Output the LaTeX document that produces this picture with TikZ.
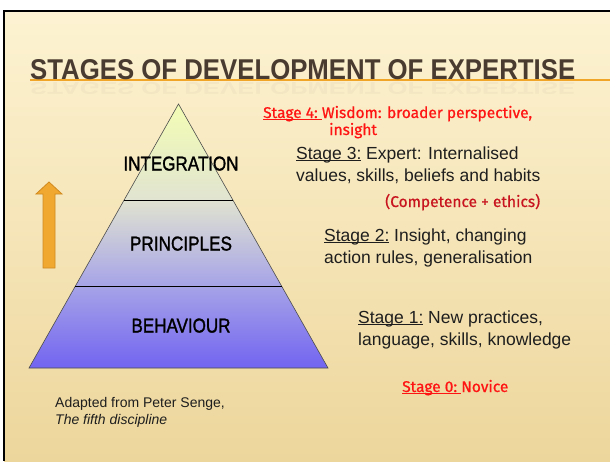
\documentclass[tikz,border=0pt]{standalone}
\usepackage{fontspec}
\setmainfont{Liberation Sans}
\newfontfamily\redfont[FakeBold=0.7]{Fira Sans}
\newfontfamily\pyrfont[FakeBold=1.6]{Liberation Sans}
\usetikzlibrary{calc}
\newcommand\myul[1]{\setbox0\hbox{#1}\rlap{\rule[-2.2pt]{\wd0}{0.9pt}}\box0\relax}
\definecolor{bgtop}{HTML}{FDF3D2}
\definecolor{bgbot}{HTML}{EDD69C}
\definecolor{titlecol}{HTML}{4A3B30}
\definecolor{ulorange}{HTML}{F0A428}
\definecolor{pt}{HTML}{F3FDB4}
\definecolor{pg}{HTML}{E1E4D0}
\definecolor{pl}{HTML}{A8A5E7}
\definecolor{pb}{HTML}{7264F1}
\definecolor{arrfill}{HTML}{F0A830}
\definecolor{arrdraw}{HTML}{D08A20}
\definecolor{redA}{HTML}{FF1414}
\definecolor{redB}{HTML}{C8141E}
\definecolor{txt}{HTML}{1E1E1E}
\pgfdeclareverticalshading{pyrshade}{100bp}{color(0bp)=(pb); color(25bp)=(pb); color(41bp)=(pl); color(57bp)=(pg); color(75bp)=(pt); color(100bp)=(pt)}
\tikzset{
  pyrlabel/.style={anchor=base, inner sep=0pt, text=black, font=\pyrfont},
  bodytext/.style={anchor=base west, inner sep=0pt, text=txt, font=\fontsize{17.5}{21}\selectfont},
  redtext/.style={anchor=base west, inner sep=0pt, text=redA, font=\redfont\fontsize{15.5}{18}\selectfont},
  smalltext/.style={anchor=base west, inner sep=0pt, text=txt, font=\fontsize{14}{17}\selectfont},
  pyredge/.style={draw=black!70, line width=0.6pt},
  divider/.style={draw=black, line width=0.9pt},
}
\begin{document}
\begin{tikzpicture}[x=1pt,y=-1pt]
\useasboundingbox (0,0) rectangle (610,461);
\fill[white] (0,0) rectangle (610,461);
\shade[top color=bgtop, bottom color=bgbot] (4,11) rectangle (610,461);
\draw[line width=2pt] (3,11) -- (610,11);
\draw[line width=2pt] (4,10) -- (4,461);

% title
\coordinate (ulstart) at (30,80);
\coordinate (ulend) at (610,80);
\draw[ulorange, line width=1.4pt] (ulstart) -- (ulend);
\node[anchor=base west, inner sep=0pt, text=titlecol, opacity=0.04, yscale=-0.6, transform shape] (refl) at (30,82) {\resizebox{545pt}{20pt}{\bfseries STAGES OF DEVELOPMENT OF EXPERTISE}};
\node[anchor=base west, inner sep=0pt, text=titlecol] (title) at (30,79) {\resizebox{545pt}{20pt}{\bfseries STAGES OF DEVELOPMENT OF EXPERTISE}};

% pyramid
\coordinate (apex) at (178.5,104);
\coordinate (bl) at (29,368);
\coordinate (br) at (328,368);
\shade[shading=pyrshade] (apex) -- (bl) -- (br) -- cycle;
\draw[pyredge] (apex) -- (bl) -- (br) -- cycle;
\coordinate (d1l) at ($(apex)!0.3636!(bl)$);
\coordinate (d1r) at ($(apex)!0.3636!(br)$);
\coordinate (d2l) at ($(apex)!0.6894!(bl)$);
\coordinate (d2r) at ($(apex)!0.6894!(br)$);
\draw[divider] (d1l) -- (d1r);
\draw[divider] (d2l) -- (d2r);
\node[pyrlabel] (integ) at (181,170.5) {\resizebox{115pt}{14pt}{INTEGRATION}};
\node[pyrlabel] (princ) at (181,250.5) {\resizebox{102pt}{14pt}{PRINCIPLES}};
\node[pyrlabel] (behav) at (181,332.5) {\resizebox{99pt}{14pt}{BEHAVIOUR}};

% arrow
\draw[fill=arrfill, draw=arrdraw, line width=0.8pt, line join=miter]
  (43,268) -- (43,194) -- (36,194) -- (49,182) -- (62,194) -- (55,194) -- (55,268) -- cycle;

% stage texts
\node[redtext] (s4a) at (263,118) {\myul{Stage 4:\ }Wisdom: broader perspective,};
\node[redtext] (s4b) at (329,135) {insight};
\node[bodytext] (s3a) at (296,159) {\myul{Stage 3:} Expert: Internalised};
\node[bodytext] (s3b) at (296,181) {values, skills, beliefs and habits};
\node[redtext, text=redB] (comp) at (385,207) {(Competence + ethics)};
\node[bodytext] (s2a) at (324,241) {\myul{Stage 2:} Insight, changing};
\node[bodytext] (s2b) at (324,263) {action rules, generalisation};
\node[bodytext] (s1a) at (358,323) {\myul{Stage 1:} New practices,};
\node[bodytext] (s1b) at (358,345) {language, skills, knowledge};
\node[redtext] (s0) at (402,392) {\myul{Stage 0:\ }Novice};
\node[smalltext] (ad1) at (55,407) {Adapted from Peter Senge,};
\node[smalltext] (ad2) at (55,424) {\itshape The fifth discipline};
\end{tikzpicture}
\end{document}
